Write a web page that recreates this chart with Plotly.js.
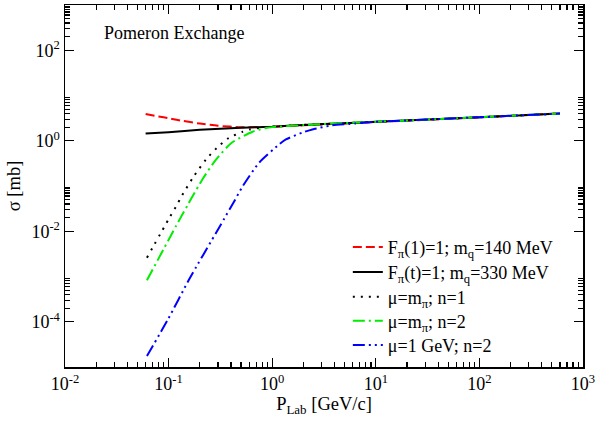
<!DOCTYPE html>
<html>
<head>
<meta charset="utf-8">
<script src="https://cdn.plot.ly/plotly-3.0.1.min.js"></script>
<style>html,body{margin:0;padding:0;background:#fff;}#chart{width:595px;height:426px;}</style>
</head>
<body>
<div id="chart"></div>
<script>
// ---- data (P_Lab in GeV/c, sigma in mb) ----
const xRed   = [0.06, 0.08, 0.1, 0.13, 0.2, 0.3, 0.5, 1, 2, 5, 10, 100, 600];
const yRed   = [3.9, 3.44, 3.16, 2.8, 2.4, 2.14, 2.0, 2.03, 2.2, 2.42, 2.6, 3.28, 4.05];

const xBlack = [0.06, 0.1, 0.2, 0.5, 1, 2, 5, 10, 100, 600];
const yBlack = [1.45, 1.55, 1.74, 1.95, 2.05, 2.24, 2.45, 2.62, 3.3, 4.0];

const xDot   = [0.0618, 0.102, 0.121, 0.131, 0.171, 0.23, 0.292, 0.38, 0.518, 0.61, 0.8, 1, 2, 10, 100, 600];
const yDot   = [2.6e-3, 0.020, 0.039, 0.055, 0.151, 0.389, 0.692, 1.15, 1.58, 1.78, 1.95, 2.05, 2.24, 2.62, 3.3, 4.0];

const xGreen = [0.0618, 0.129, 0.153, 0.165, 0.214, 0.288, 0.409, 0.646, 0.871, 1, 2, 10, 100, 600];
const yGreen = [8.3e-4, 0.019, 0.038, 0.052, 0.145, 0.389, 0.912, 1.58, 1.91, 2.0, 2.22, 2.62, 3.3, 4.0];

const xBlue  = [0.0618, 0.0984, 0.159, 0.298, 0.359, 0.425, 0.518, 0.75, 1.167, 1.355, 1.95, 2.44, 3.8, 6.3, 10, 100, 600];
const yBlue  = [1.74e-5, 1.12e-4, 8.9e-4, 0.0107, 0.0224, 0.0437, 0.098, 0.331, 0.83, 1.07, 1.51, 1.78, 2.19, 2.40, 2.62, 3.3, 4.0];

const seriesNames = [
  "F<sub>π</sub>(1)=1; m<sub>q</sub>=140 MeV",
  "F<sub>π</sub>(t)=1; m<sub>q</sub>=330 MeV",
  "μ=m<sub>π</sub>; n=1",
  "μ=m<sub>π</sub>; n=2",
  "μ=1 GeV; n=2"
];

// tick labels
const xTickVals = [0.01, 0.1, 1, 10, 100, 1000];
const xTickText = ["10<sup>-2</sup>", "10<sup>-1</sup>", "10<sup>0</sup>", "10<sup>1</sup>", "10<sup>2</sup>", "10<sup>3</sup>"];
const yTickVals = [1e-4, 1e-2, 1, 100];
const yTickText = ["10<sup>-4</sup>", "10<sup>-2</sup>", "10<sup>0</sup>", "10<sup>2</sup>"];
const xMinorDecades = [0.01, 0.1, 1, 10, 100];
const yMinorDecades = [1e-4, 1e-2, 1, 100];
const minorMult = [2, 3, 4, 5, 6, 7, 8, 9];

const xMinor = [];
xMinorDecades.forEach(d => minorMult.forEach(m => xMinor.push(d * m)));
const yMinor = [];
yMinorDecades.forEach(d => minorMult.forEach(m => yMinor.push(d * m)));

const FONT = "Liberation Serif, Times New Roman, serif";

const traces = [
  {x: xRed, y: yRed, name: seriesNames[0], mode: 'lines', legend: 'legend',
   line: {color: '#ff0000', width: 2, dash: '9px,4px'}},
  {x: xBlack, y: yBlack, name: seriesNames[1], mode: 'lines', legend: 'legend2',
   line: {color: '#000000', width: 2}},
  {x: xDot, y: yDot, name: seriesNames[2], mode: 'lines', legend: 'legend3',
   line: {color: '#000000', width: 2, dash: '2px,6px'}},
  {x: xGreen, y: yGreen, name: seriesNames[3], mode: 'lines', legend: 'legend4',
   line: {color: '#00ee00', width: 2, dash: '12px,4px,2px,4px'}},
  {x: xBlue, y: yBlue, name: seriesNames[4], mode: 'lines', legend: 'legend5',
   line: {color: '#0000ff', width: 2, dash: '12px,4px,2px,4px,2px,4px'}}
];
traces.forEach(t => { t.line.shape = 'spline'; t.line.smoothing = 0.6; });

const axisCommon = {
  type: 'log',
  showgrid: false,
  zeroline: false,
  showline: true,
  linecolor: '#000',
  linewidth: 1.5,
  mirror: 'ticks',
  ticks: 'inside',
  ticklen: 9,
  tickwidth: 1.2,
  tickcolor: '#000',
  tickmode: 'array',
  ticklabeloverflow: 'allow',
  tickfont: {family: FONT, size: 18, color: '#000'}
};

function mkLegend(yTop) {
  return {
    x: 0.546, y: yTop, xanchor: 'left', yanchor: 'top',
    bgcolor: 'rgba(0,0,0,0)', borderwidth: 0,
    font: {family: FONT, size: 18, color: '#000'}
  };
}
const legendTops = [0.382, 0.313, 0.244, 0.178, 0.111];

const layout = {
  width: 595, height: 426,
  margin: {l: 65, r: 12, t: 5, b: 59},
  paper_bgcolor: '#fff', plot_bgcolor: '#fff',
  showlegend: true,
  legend: mkLegend(legendTops[0]),
  legend2: mkLegend(legendTops[1]),
  legend3: mkLegend(legendTops[2]),
  legend4: mkLegend(legendTops[3]),
  legend5: mkLegend(legendTops[4]),
  xaxis: Object.assign({}, axisCommon, {
    range: [-2, 3],
    tickvals: xTickVals, ticktext: xTickText,
    minor: {tickmode: 'array', tickvals: xMinor, ticks: 'inside', ticklen: 5, tickwidth: 1.2, tickcolor: '#000', showgrid: false},
    title: {text: 'P<sub>Lab</sub> [GeV/c]', font: {family: FONT, size: 18.5, color: '#000'}, standoff: 3}
  }),
  yaxis: Object.assign({}, axisCommon, {
    range: [-5, 3],
    tickvals: yTickVals, ticktext: yTickText,
    minor: {tickmode: 'array', tickvals: yMinor, ticks: 'inside', ticklen: 5, tickwidth: 1.2, tickcolor: '#000', showgrid: false},
    title: {text: 'σ [mb]', font: {family: FONT, size: 18.5, color: '#000'}, standoff: 6}
  }),
  annotations: [{
    text: 'Pomeron Exchange', xref: 'paper', yref: 'paper',
    x: 0.0714, y: 0.9227, xanchor: 'left', yanchor: 'middle',
    showarrow: false, font: {family: FONT, size: 18, color: '#000'}
  }]
};

Plotly.newPlot('chart', traces, layout, {displayModeBar: false, staticPlot: true});
</script>
</body>
</html>
